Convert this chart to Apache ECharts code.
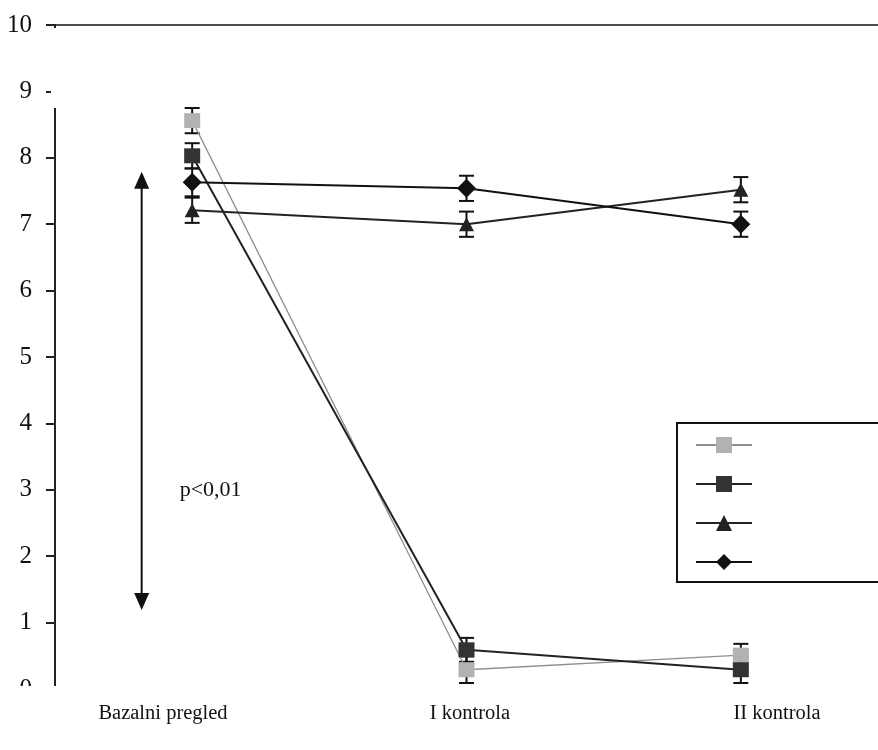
<!DOCTYPE html>
<html>
<head>
<meta charset="utf-8">
<script src="https://cdn.jsdelivr.net/npm/echarts@6/dist/echarts.min.js"></script>
<style>
  html, body { margin: 0; padding: 0; background: #ffffff; }
  #chart { width: 878px; height: 750px; }
</style>
</head>
<body>
<div id="chart"></div>
<script>
// ---- data ----
const categories = ['Bazalni pregled', 'I kontrola', 'II kontrola'];
const seriesNames = ['Serija 1', 'Serija 2', 'Serija 3', 'Serija 4'];
const valuesLightSquare = [8.56, 0.29, 0.51];
const errLightSquare    = [0.19, 0.20, 0.17];
const valuesDarkSquare  = [8.03, 0.59, 0.29];
const errDarkSquare     = [0.19, 0.18, 0.20];
const valuesTriangle    = [7.21, 7.00, 7.52];
const errTriangle       = [0.19, 0.19, 0.19];
const valuesDiamond     = [7.63, 7.54, 7.00];
const errDiamond        = [0.21, 0.19, 0.19];
const yTickMin = 0, yTickMax = 10, yTickStep = 1;
const arrowRange = [1.19, 7.79];
const pValueText = 'p<0,01';
const pValueAt = 3;
const topLineValue = 10;

// ---- build ----
const FONT = '"Liberation Serif", "DejaVu Serif", serif';
const errData = [];
[[valuesLightSquare, errLightSquare], [valuesDarkSquare, errDarkSquare],
 [valuesTriangle, errTriangle], [valuesDiamond, errDiamond]].forEach(function (pair) {
  pair[0].forEach(function (v, i) { errData.push([i, v, pair[1][i]]); });
});

const chart = echarts.init(document.getElementById('chart'), null, { renderer: 'canvas' });

function lineSeries(name, data, symbol, size, fill, lineColor, lineWidth, extra) {
  return Object.assign({
    name: name, type: 'line', data: data, xAxisIndex: 0, yAxisIndex: 0,
    symbol: symbol, symbolSize: size, z: 3,
    itemStyle: { color: fill, borderWidth: 0 },
    lineStyle: { color: lineColor, width: lineWidth },
    emphasis: { disabled: true }, animation: false
  }, extra || {});
}

const option = {
  animation: false,
  backgroundColor: '#ffffff',
  grid: [
    { left: 55, right: -2, top: 25, bottom: 61, containLabel: false },
    { left: 163, right: 101, top: 690, height: 10, containLabel: false }
  ],
  xAxis: [
    { type: 'category', gridIndex: 0, data: categories, boundaryGap: true,
      axisLine: { show: false }, axisTick: { show: false }, axisLabel: { show: false },
      splitLine: { show: false } },
    { type: 'category', gridIndex: 1, data: categories, boundaryGap: false,
      axisLine: { show: false }, axisTick: { show: false },
      axisLabel: { show: true, margin: 3, fontFamily: FONT, fontSize: 20.5, color: '#111' } }
  ],
  yAxis: [
    { type: 'value', gridIndex: 0, min: yTickMin, max: yTickMax, interval: yTickStep,
      axisLine: { show: true, lineStyle: { color: '#222', width: 2 } },
      axisTick: { show: true, length: 9, lineStyle: { color: '#222', width: 2 } },
      axisLabel: { show: true, margin: 23, fontFamily: FONT, fontSize: 25, color: '#111' },
      splitLine: { show: false } },
    { type: 'value', gridIndex: 1, show: false }
  ],
  legend: {
    show: true, orient: 'vertical', left: 677, top: 423,
    data: seriesNames, selectedMode: false,
    itemWidth: 56, itemHeight: 20, itemGap: 21,
    padding: [12, 140, 12, 18],
    borderColor: '#111', borderWidth: 2, backgroundColor: '#ffffff',
    formatter: function () { return ''; },
    textStyle: { fontSize: 1 }
  },
  series: [
    {
      type: 'custom', name: 'err', xAxisIndex: 0, yAxisIndex: 0, z: 2, clip: false,
      data: errData, silent: true,
      renderItem: function (params, api) {
        const x = api.value(0), v = api.value(1), e = api.value(2);
        const pTop = api.coord([x, v + e]);
        const pBot = api.coord([x, v - e]);
        const hw = 7.5;
        const st = { stroke: '#111', lineWidth: 2 };
        return { type: 'group', children: [
          { type: 'line', shape: { x1: pTop[0], y1: pTop[1], x2: pBot[0], y2: pBot[1] }, style: st },
          { type: 'line', shape: { x1: pTop[0] - hw, y1: pTop[1], x2: pTop[0] + hw, y2: pTop[1] }, style: st },
          { type: 'line', shape: { x1: pBot[0] - hw, y1: pBot[1], x2: pBot[0] + hw, y2: pBot[1] }, style: st }
        ]};
      }
    },
    lineSeries(seriesNames[0], valuesLightSquare, 'rect', [16, 15], '#b2b2b2', '#8f8f8f', 1.3),
    lineSeries(seriesNames[1], valuesDarkSquare, 'rect', [16, 15], '#333333', '#222222', 2),
    lineSeries(seriesNames[2], valuesTriangle, 'triangle', [15, 14], '#222222', '#222222', 2),
    lineSeries(seriesNames[3], valuesDiamond, 'diamond', [19, 19], '#111111', '#111111', 2, {
      markLine: {
        silent: true, symbol: 'none', animation: false,
        label: { show: false },
        lineStyle: { color: '#111', width: 1.6, type: 'solid' },
        data: [{ yAxis: topLineValue }]
      }
    }),
    {
      type: 'custom', name: 'arrow', xAxisIndex: 0, yAxisIndex: 0, z: 4, clip: false, silent: true,
      data: [[arrowRange[0], arrowRange[1], pValueAt]],
      renderItem: function (params, api) {
        const lo = api.value(0), hi = api.value(1), pv = api.value(2);
        const base = api.coord([0, lo]);
        const x = base[0] - 50.5;
        const yBot = base[1];
        const yTop = api.coord([0, hi])[1];
        const yTxt = api.coord([0, pv])[1];
        const ah = 17, aw = 7.5;
        return { type: 'group', children: [
          { type: 'line', shape: { x1: x, y1: yTop + ah - 2, x2: x, y2: yBot - ah + 2 },
            style: { stroke: '#111', lineWidth: 2 } },
          { type: 'polygon', shape: { points: [[x, yTop], [x - aw, yTop + ah], [x + aw, yTop + ah]] },
            style: { fill: '#111' } },
          { type: 'polygon', shape: { points: [[x, yBot], [x - aw, yBot - ah], [x + aw, yBot - ah]] },
            style: { fill: '#111' } },
          { type: 'text', x: x + 38, y: yTxt,
            style: { text: pValueText, fill: '#111', font: '22px ' + FONT, textVerticalAlign: 'middle', textAlign: 'left' } }
        ]};
      }
    }
  ],
  graphic: [
    { type: 'rect', z: 100, silent: true, shape: { x: 51, y: 28, width: 8, height: 80 }, style: { fill: '#ffffff' } },
    { type: 'rect', z: 100, silent: true, shape: { x: 0, y: 686, width: 878, height: 14 }, style: { fill: '#ffffff' } }
  ]
};
chart.setOption(option);
</script>
</body>
</html>
